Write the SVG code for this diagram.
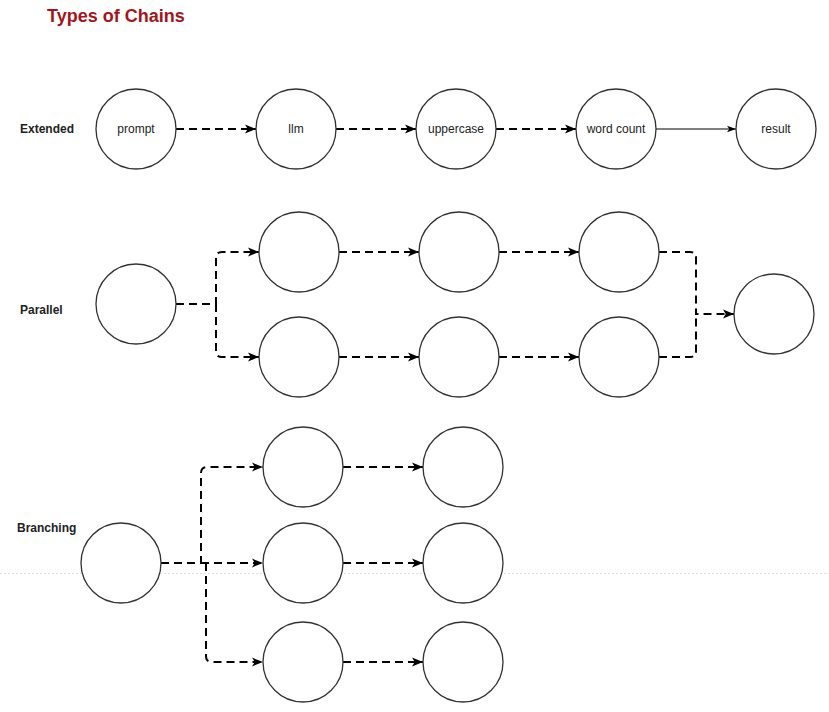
<svg xmlns="http://www.w3.org/2000/svg" width="829" height="712" viewBox="0 0 829 712">
<style>
.n{fill:#fff;stroke:#333;stroke-width:1.3}
.t{font-family:"Liberation Sans",Arial,sans-serif;font-size:12px;fill:#222;text-anchor:middle;dominant-baseline:central}
.lb{font-family:"Liberation Sans",Arial,sans-serif;font-size:12px;font-weight:bold;fill:#222;dominant-baseline:central}
.d{fill:none;stroke:#000;stroke-width:2;stroke-dasharray:8,5}
.s{fill:none;stroke:#000;stroke-width:1}
</style>
<defs>
<marker id="b" viewBox="0 0 10 10" refX="10" refY="5" markerWidth="11" markerHeight="11" markerUnits="userSpaceOnUse" orient="auto">
<path d="M0,1 L10,5 L0,9 L2.5,5 Z" fill="#000"/>
</marker>
<marker id="c" viewBox="0 0 10 10" refX="10" refY="5" markerWidth="9" markerHeight="9" markerUnits="userSpaceOnUse" orient="auto">
<path d="M0,1.5 L10,5 L0,8.5 L2.5,5 Z" fill="#000"/>
</marker>
</defs>
<rect width="829" height="712" fill="#fff"/>
<line x1="0" y1="573.5" x2="829" y2="573.5" stroke="#ddd" stroke-width="1" stroke-dasharray="2,2"/>
<text x="47" y="16" font-family="Liberation Sans,Arial,sans-serif" font-size="18" font-weight="bold" fill="#A5141A" dominant-baseline="central">Types of Chains</text>
<text class="lb" x="20" y="129">Extended</text>
<text class="lb" x="20" y="310">Parallel</text>
<text class="lb" x="17" y="528">Branching</text>
<g id="connectors">
<path class="d" d="M176,129 H256" marker-end="url(#b)"/>
<path class="d" d="M336,129 H416" marker-end="url(#b)"/>
<path class="d" d="M496,129 H576" marker-end="url(#b)"/>
<path class="s" d="M656,129 H736" marker-end="url(#c)"/>
<path class="d" d="M176,304 H216 V258 Q216,252 222,252 H259" marker-end="url(#b)"/>
<path class="d" d="M216,304 V351 Q216,357 222,357 H259" marker-end="url(#b)"/>
<path class="d" d="M339,252 H419" marker-end="url(#b)"/>
<path class="d" d="M339,357 H419" marker-end="url(#b)"/>
<path class="d" d="M499,252 H579" marker-end="url(#b)"/>
<path class="d" d="M499,357 H579" marker-end="url(#b)"/>
<path class="d" d="M659,252 H690 Q696,252 696,258 V314 H734" marker-end="url(#b)"/>
<path class="d" d="M659,357 H690 Q696,357 696,351 V314"/>
<path class="d" d="M161,563 H201 V473 Q201,467 207,467 H263" marker-end="url(#b)"/>
<path class="d" d="M201,563 H263" marker-end="url(#b)"/>
<path class="d" d="M206,563 V656 Q206,662 212,662 H263" marker-end="url(#b)"/>
<path class="d" d="M343,467 H423" marker-end="url(#b)"/>
<path class="d" d="M343,563 H423" marker-end="url(#b)"/>
<path class="d" d="M343,662 H423" marker-end="url(#b)"/>
</g>
<g id="prompt"><circle class="n" cx="136" cy="129" r="40"/><text class="t" x="136" y="129">prompt</text></g>
<g id="llm"><circle class="n" cx="296" cy="129" r="40"/><text class="t" x="296" y="129">llm</text></g>
<g id="uppercase"><circle class="n" cx="456" cy="129" r="40"/><text class="t" x="456" y="129">uppercase</text></g>
<g id="wordcount"><circle class="n" cx="616" cy="129" r="40"/><text class="t" x="616" y="129">word count</text></g>
<g id="result"><circle class="n" cx="776" cy="129" r="40"/><text class="t" x="776" y="129">result</text></g>
<g id="p-src"><circle class="n" cx="136" cy="304" r="40"/></g>
<g id="p-t1"><circle class="n" cx="299" cy="252" r="40"/></g>
<g id="p-t2"><circle class="n" cx="459" cy="252" r="40"/></g>
<g id="p-t3"><circle class="n" cx="619" cy="252" r="40"/></g>
<g id="p-b1"><circle class="n" cx="299" cy="357" r="40"/></g>
<g id="p-b2"><circle class="n" cx="459" cy="357" r="40"/></g>
<g id="p-b3"><circle class="n" cx="619" cy="357" r="40"/></g>
<g id="p-out"><circle class="n" cx="774" cy="314" r="40"/></g>
<g id="b-src"><circle class="n" cx="121" cy="563" r="40"/></g>
<g id="b-a1"><circle class="n" cx="303" cy="467" r="40"/></g>
<g id="b-a2"><circle class="n" cx="463" cy="467" r="40"/></g>
<g id="b-m1"><circle class="n" cx="303" cy="563" r="40"/></g>
<g id="b-m2"><circle class="n" cx="463" cy="563" r="40"/></g>
<g id="b-c1"><circle class="n" cx="303" cy="662" r="40"/></g>
<g id="b-c2"><circle class="n" cx="463" cy="662" r="40"/></g>
</svg>
